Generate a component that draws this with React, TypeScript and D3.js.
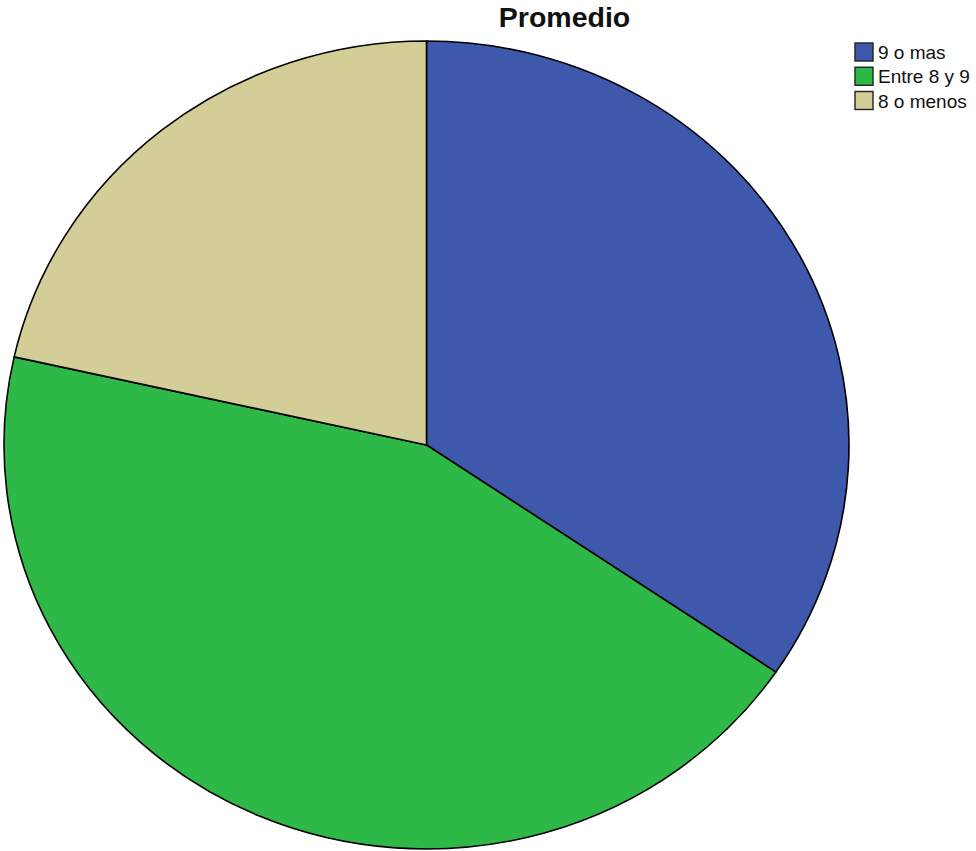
import React from "react";
import * as d3 from "d3";

// Promedio categories and counts
const categories = ["9 o mas", "Entre 8 y 9", "8 o menos"];
const counts = [69, 88, 43];
const colors = ["#3E58AC", "#2EB848", "#D3CE97"];
const title = "Promedio";

const W = 976;
const H = 851;
const cx = 426.5;
const cy = 445;
const rx = 422.5;
const ry = 404;

export default function App() {
  const pie = d3
    .pie<number>()
    .sort(null)
    .value((d) => d)
    .startAngle(0)
    .endAngle(2 * Math.PI);
  const arcs = pie(counts);
  const arc = d3.arc<d3.PieArcDatum<number>>().innerRadius(0).outerRadius(ry);
  const color = d3.scaleOrdinal<string, string>().domain(categories).range(colors);
  const legendY = d3
    .scalePoint<string>()
    .domain(categories)
    .range([52, 100.5]);

  return (
    <svg
      width={W}
      height={H}
      style={{ position: "absolute", left: 0, top: 0, background: "#fff" }}
      fontFamily="'Liberation Sans', Arial, sans-serif"
    >
      <text x={564.5} y={27} textAnchor="middle" fontSize={28.5} fontWeight="bold" fill="#111">
        {title}
      </text>
      <g transform={`translate(${cx},${cy}) scale(${rx / ry},1)`}>
        {arcs.map((a, i) => (
          <path
            key={categories[i]}
            d={arc(a) ?? undefined}
            fill={color(categories[i])}
            stroke="#000"
            strokeWidth={1.6}
            strokeLinejoin="round"
            vectorEffect="non-scaling-stroke"
          />
        ))}
      </g>
      <g>
        {categories.map((c) => (
          <g key={c} transform={`translate(855,${legendY(c)})`}>
            <rect x={0} y={-9} width={18} height={18} fill={color(c)} stroke="#222" strokeWidth={1.4} />
            <text x={23} y={7} fontSize={19} fill="#111">
              {c}
            </text>
          </g>
        ))}
      </g>
    </svg>
  );
}
